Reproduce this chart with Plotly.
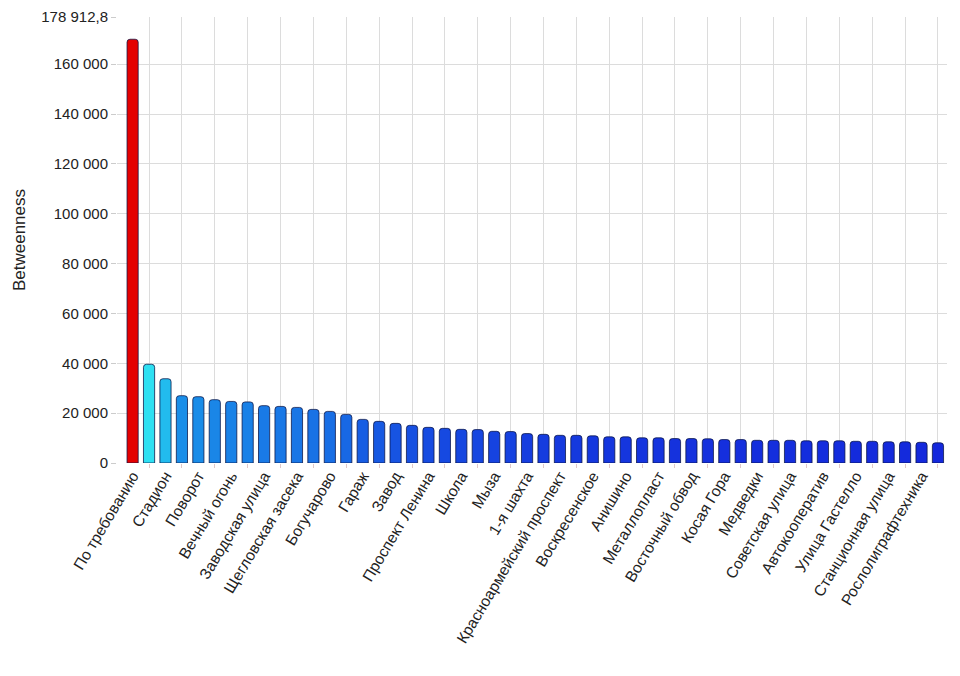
import plotly.graph_objects as go

# labelled stops (every other bar carries a tick label)
labels = [
    "По требованию", "Стадион", "Поворот", "Вечный огонь", "Заводская улица",
    "Щегловская засека", "Богучарово", "Гараж", "Завод", "Проспект Ленина",
    "Школа", "Мыза", "1-я шахта", "Красноармейский проспект", "Воскресенское",
    "Анишино", "Металлопласт", "Восточный обвод", "Косая Гора", "Медведки",
    "Советская улица", "Автокооператив", "Улица Гастелло", "Станционная улица",
    "Рослолиграфтехника",
]

betweenness = [
    170000, 39600, 33800, 27000, 26600, 25400, 24700, 24500, 23000, 22700,
    22300, 21500, 20700, 19500, 17500, 16700, 15900, 15100, 14300, 13900,
    13500, 13400, 12700, 12600, 11800, 11500, 11100, 11100, 10900, 10500,
    10500, 10100, 10100, 9800, 9800, 9700, 9400, 9400, 9100, 9100,
    9100, 8900, 8900, 8900, 8700, 8700, 8500, 8500, 8300, 8100,
]

y_max = 178912.8
y_ticks = [0, 20000, 40000, 60000, 80000, 100000, 120000, 140000, 160000, y_max]
y_ticktext = ["0", "20 000", "40 000", "60 000", "80 000", "100 000",
              "120 000", "140 000", "160 000", "178 912,8"]

x = list(range(len(betweenness)))
label_pos = x[::2]
grid_pos = x[1::2]

colorscale = [
    [0.0, "#1428dc"],
    [0.03, "#1644e0"],
    [0.07, "#1868e4"],
    [0.117, "#1a8ee8"],
    [0.159, "#22bbee"],
    [0.195, "#2ee0f2"],
    [0.6, "#9090a0"],
    [1.0, "#e40000"],
]

fig = go.Figure(go.Bar(
    x=x,
    y=betweenness,
    width=0.68,
    marker=dict(
        color=betweenness,
        colorscale=colorscale,
        cmin=min(betweenness),
        cmax=max(betweenness),
        line=dict(color="rgba(10,20,70,0.75)", width=1),
        cornerradius=3,
    ),
))

# page body adds an 8px offset, margins compensate for it
fig.update_layout(
    width=960, height=676,
    margin=dict(l=109, r=21, t=9, b=221),
    plot_bgcolor="white", paper_bgcolor="white",
    font=dict(family="Liberation Sans, Arial, sans-serif", size=15, color="#222"),
    showlegend=False,
    bargap=0.3,
)

fig.update_xaxes(
    range=[-0.95, 49.55], automargin=False,
    tickmode="array", tickvals=label_pos, ticktext=labels,
    tickangle=-59, ticks="", showgrid=False, zeroline=False, showline=False,
    tickfont=dict(size=15.5),
    minor=dict(tickvals=grid_pos, showgrid=True, gridcolor="#dcdcdc",
               ticks="outside", ticklen=4, tickcolor="#e0c8c8"),
)

fig.update_yaxes(
    range=[0, y_max], automargin=False, ticklabeloverflow="allow",
    tickmode="array", tickvals=y_ticks, ticktext=y_ticktext,
    gridcolor="#dcdcdc", zeroline=False, showline=False,
    ticks="outside", ticklen=5, tickcolor="#cccccc",
    title=dict(text="Betweenness", font=dict(size=17), standoff=11),
)

fig.write_html("out.html")
